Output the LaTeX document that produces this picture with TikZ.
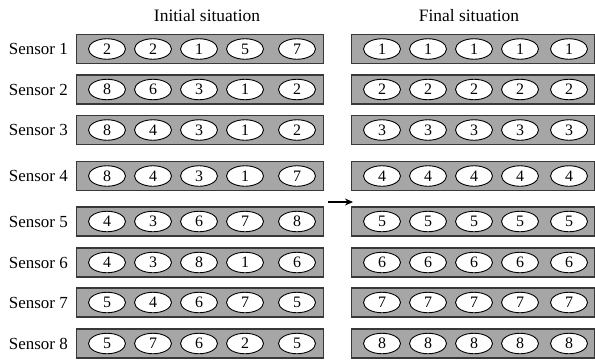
\documentclass[tikz,border=0pt]{standalone}
\usepackage{fontspec}
\setmainfont{Liberation Serif}
\usetikzlibrary{shapes.geometric,arrows.meta}
\begin{document}
\begin{tikzpicture}[x=1bp,y=-1bp,
  bar/.style={draw=black!78,line width=1.3bp,fill=black!35,minimum height=29bp,inner sep=0pt,anchor=west},
  cell/.style={ellipse,draw=black,line width=0.9bp,fill=white,minimum width=37bp,minimum height=20.5bp,inner sep=0pt,font=\fontsize{16}{18}\selectfont},
  lab/.style={anchor=east,inner sep=0pt,font=\fontsize{17}{20}\selectfont},
  ttl/.style={inner sep=0pt,font=\fontsize{17.5}{20}\selectfont}]
\useasboundingbox (0,0) rectangle (595,363);
\node[ttl] (T1) at (207,16) {Initial situation};
\node[ttl] (T2) at (469,16) {Final situation};
\foreach \r/\yy/\vals in {1/49/{2,2,1,5,7},2/89.5/{8,6,3,1,2},3/130/{8,4,3,1,2},4/176/{8,4,3,1,7},5/221.5/{4,3,6,7,8},6/262.5/{4,3,8,1,6},7/302.5/{5,4,6,7,5},8/343.5/{5,7,6,2,5}}{
  \node[lab] (S\r) at (68,\yy) {Sensor \r};
  \node[bar,minimum width=247bp] (BL\r) at (76,\yy) {};
  \node[bar,minimum width=243bp] (BR\r) at (351,\yy) {};
  \foreach \v [count=\c] in \vals {
    \pgfmathsetmacro{\xl}{{107,153,199,245,297}[\c-1]}
    \node[cell] (L\r-\c) at (\xl,\yy) {\v};
  }
  \foreach \c in {1,...,5} {
    \pgfmathsetmacro{\xr}{{382,428,474,520,569}[\c-1]}
    \node[cell] (R\r-\c) at (\xr,\yy) {\r};
  }
}
\coordinate (A1) at (328,202);
\coordinate (A2) at (353,202);
\draw[-{Stealth[length=8bp,width=7bp]},line width=1.8bp] (A1) -- (A2);
\end{tikzpicture}
\end{document}
